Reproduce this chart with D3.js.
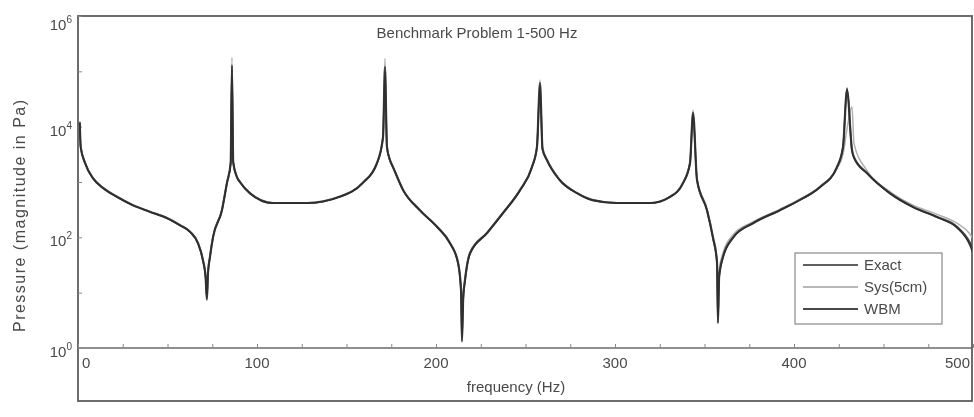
<!DOCTYPE html>
<html>
<head>
<meta charset="utf-8">
<script src="https://cdn.jsdelivr.net/npm/d3@7"></script>
<style>
  html, body { margin: 0; padding: 0; background: #fff; }
  svg { display: block; font-family: "Liberation Sans", Arial, sans-serif; }
</style>
</head>
<body>
<svg id="chart" width="974" height="417"></svg>
<script>
// ================= DATA ===================
// frequency samples (Hz), shared by all three series
const freq = [1, 1.5, 4, 8.4, 14, 21.8, 30.7, 40.2, 49.7, 57, 62.6, 67, 69.8, 71.3, 72, 72.6, 73.7, 75.4,
  80.4, 83.2, 85.3, 86, 86.7, 88.8, 90.5, 96, 109, 128, 146, 159, 167, 170.4, 171.5, 172.6, 174.3, 176,
  181.6, 191, 200.6, 207.8, 212.3, 214, 214.5, 215.2, 216.2, 219, 228.5, 237.4, 247, 253.6, 256.4, 258.1,
  259.5, 262, 269, 278.8, 287.7, 301, 319.6, 330.7, 338, 341.9, 343.6, 345.8, 351.4, 354.7, 357, 357.5,
  358.2, 360.3, 366, 377, 392, 403, 414.5, 424, 427.4, 429.6, 432.4, 433.5, 440.8, 453.6, 466.5, 480,
  491, 498.3, 500];

// pressure magnitude (Pa)
const exactPa = [12000, 4300, 2200, 1170, 780, 540, 380, 290, 224, 166, 126, 79, 39, 19, 7.4, 22, 44, 100,
  310, 960, 2200, 130000, 2300, 1230, 1000, 630, 417, 417, 540, 960, 2200, 6500, 120000, 4300, 2500, 1860,
  720, 310, 155, 79, 35, 11, 1.3, 8, 17, 52, 120, 275, 720, 1860, 4300, 62000,
  4000, 2500, 1100, 630, 470, 417, 417, 540, 960, 2200, 18000, 1100, 310, 100, 35, 2.8,
  20, 44, 100, 180, 310, 470, 810, 1860, 4300, 46000, 3800, 2800, 1450, 630, 355, 234,
  155, 79, 59];

const sysPa = [12500, 4400, 2200, 1180, 790, 545, 385, 292, 226, 168, 128, 80, 40, 20, 8, 24, 46, 105,
  315, 980, 2300, 180000, 2400, 1250, 1010, 640, 420, 420, 545, 970, 2250, 7000, 170000, 4400, 2550, 1880,
  730, 315, 158, 80, 36, 12, 2.5, 9, 18, 54, 122, 278, 730, 1900, 4500, 70000,
  4200, 2600, 1120, 640, 475, 420, 420, 545, 980, 2300, 20000, 1150, 330, 110, 40, 5,
  26, 52, 112, 190, 320, 485, 830, 1750, 3200, 9000, 23000, 5000, 1600, 670, 380, 260,
  180, 115, 95];

const wbmPa = [11500, 4200, 2150, 1160, 775, 535, 378, 288, 222, 164, 125, 78, 38, 18, 8, 21, 43, 98,
  305, 950, 2150, 110000, 2250, 1220, 990, 625, 415, 415, 535, 950, 2150, 6300, 100000, 4200, 2450, 1840,
  715, 305, 153, 78, 34, 10, 1.5, 7.5, 16, 50, 118, 272, 710, 1840, 4200, 55000,
  3900, 2450, 1090, 625, 465, 415, 415, 535, 950, 2150, 17000, 1080, 305, 98, 34, 3.2,
  19, 43, 98, 178, 305, 465, 800, 1840, 4400, 50000, 3700, 2750, 1420, 620, 350, 230,
  150, 72, 52];

const seriesNames = ["Exact", "Sys(5cm)", "WBM"];
const xTicks = [0, 100, 200, 300, 400, 500];
const yTickExp = [0, 2, 4, 6];

// ================= GLOBAL SETTINGS ===================
const plot = { left: 78, right: 972, top: 16, axisY: 348, bottom: 401 };
const lineStyle = {
  "Exact": { color: "#454545", width: 2.2 },
  "Sys(5cm)": { color: "#b0b0b0", width: 1.5 },
  "WBM": { color: "#2e2e2e", width: 1.6 },
};
const textColor = "#4a4a4a";

const svg = d3.select("#chart");

// soft blur to match the scanned look
svg.append("defs").append("filter")
  .attr("id", "soft")
  .append("feGaussianBlur")
  .attr("stdDeviation", 0.55);

svg.append("defs").append("clipPath")
  .attr("id", "plotClip")
  .append("rect")
  .attr("x", plot.left)
  .attr("y", plot.top)
  .attr("width", plot.right - plot.left)
  .attr("height", plot.axisY - plot.top);

const g = svg.append("g").attr("filter", "url(#soft)");

// ================= SCALES ===================
const x = d3.scaleLinear().domain([0, 500]).range([plot.left, plot.right + 1]);
const y = d3.scaleLog().domain([1, 1e6]).range([plot.axisY, plot.top]);

// ================= FRAME & AXES ===================
g.append("rect")
  .attr("x", plot.left)
  .attr("y", plot.top)
  .attr("width", plot.right - plot.left)
  .attr("height", plot.bottom - plot.top)
  .attr("fill", "none")
  .attr("stroke", "#5c5c5c")
  .attr("stroke-width", 1.8);

g.append("line")
  .attr("x1", plot.left)
  .attr("x2", plot.right)
  .attr("y1", plot.axisY)
  .attr("y2", plot.axisY)
  .attr("stroke", "#6a6a6a")
  .attr("stroke-width", 1.5);

// x ticks every 25 Hz, pointing into the plot
const xAxis = d3.axisTop(x)
  .tickValues(d3.range(0, 501, 25))
  .tickSize(4)
  .tickFormat("");
g.append("g")
  .attr("transform", `translate(0,${plot.axisY})`)
  .call(xAxis)
  .call((a) => a.select(".domain").remove())
  .selectAll("line")
  .attr("stroke", "#888");

// x tick labels (end labels kept inside frame)
g.selectAll(".xlab")
  .data(xTicks)
  .join("text")
  .attr("class", "xlab")
  .attr("x", (d) => (d === 0 ? x(d) + 4 : d === 500 ? plot.right - 2 : x(d)))
  .attr("y", 368)
  .attr("text-anchor", (d) => (d === 0 ? "start" : d === 500 ? "end" : "middle"))
  .attr("font-size", 15)
  .attr("fill", textColor)
  .text((d) => d);

// y ticks at every decade, pointing right
const yAxis = d3.axisRight(y)
  .tickValues(d3.range(0, 7).map((e) => Math.pow(10, e)))
  .tickSize(4)
  .tickFormat("");
g.append("g")
  .attr("transform", `translate(${plot.left},0)`)
  .call(yAxis)
  .call((a) => a.select(".domain").remove())
  .selectAll("line")
  .attr("stroke", "#888");

// y tick labels as 10^n
const ylab = g.selectAll(".ylab")
  .data(yTickExp)
  .join("text")
  .attr("class", "ylab")
  .attr("x", 72)
  .attr("y", (d) => y(Math.pow(10, d)) + (d === 6 ? 14 : 9))
  .attr("text-anchor", "end")
  .attr("font-size", 15)
  .attr("fill", textColor);
ylab.append("tspan").text("10");
ylab.append("tspan")
  .attr("dy", -7)
  .attr("font-size", 10)
  .text((d) => d);

// ================= TITLES ===================
g.append("text")
  .attr("x", 477)
  .attr("y", 38)
  .attr("text-anchor", "middle")
  .attr("font-size", 15)
  .attr("fill", textColor)
  .text("Benchmark Problem 1-500 Hz");

g.append("text")
  .attr("x", 516)
  .attr("y", 392)
  .attr("text-anchor", "middle")
  .attr("font-size", 15)
  .attr("fill", textColor)
  .text("frequency (Hz)");

g.append("text")
  .attr("transform", "translate(25,216) rotate(-90)")
  .attr("text-anchor", "middle")
  .attr("font-size", 16)
  .attr("textLength", 232)
  .attr("fill", textColor)
  .text("Pressure (magnitude in Pa)");

// ================= CURVES ===================
const line = d3.line()
  .curve(d3.curveMonotoneX)
  .x((d) => x(d[0]))
  .y((d) => y(d[1]));

const series = [
  { name: "Sys(5cm)", values: sysPa },
  { name: "Exact", values: exactPa },
  { name: "WBM", values: wbmPa },
];

g.append("g")
  .attr("clip-path", "url(#plotClip)")
  .selectAll("path")
  .data(series)
  .join("path")
  .attr("d", (s) => line(freq.map((f, i) => [f, s.values[i]])))
  .attr("fill", "none")
  .attr("stroke", (s) => lineStyle[s.name].color)
  .attr("stroke-width", (s) => lineStyle[s.name].width)
  .attr("stroke-linejoin", "round");

// ================= LEGEND ===================
const legend = g.append("g").attr("transform", "translate(795,253)");
legend.append("rect")
  .attr("width", 147)
  .attr("height", 71)
  .attr("fill", "#fff")
  .attr("stroke", "#888")
  .attr("stroke-width", 1.2);

const item = legend.selectAll(".item")
  .data(seriesNames)
  .join("g")
  .attr("class", "item")
  .attr("transform", (d, i) => `translate(0,${12 + i * 22})`);
item.append("line")
  .attr("x1", 8)
  .attr("x2", 63)
  .attr("stroke", (d) => (d === "Sys(5cm)" ? "#b8b8b8" : d === "Exact" ? "#5e5e5e" : "#4a4a4a"))
  .attr("stroke-width", 1.8);
item.append("text")
  .attr("x", 69)
  .attr("y", 5)
  .attr("font-size", 15)
  .attr("fill", textColor)
  .text((d) => d);
</script>
</body>
</html>
